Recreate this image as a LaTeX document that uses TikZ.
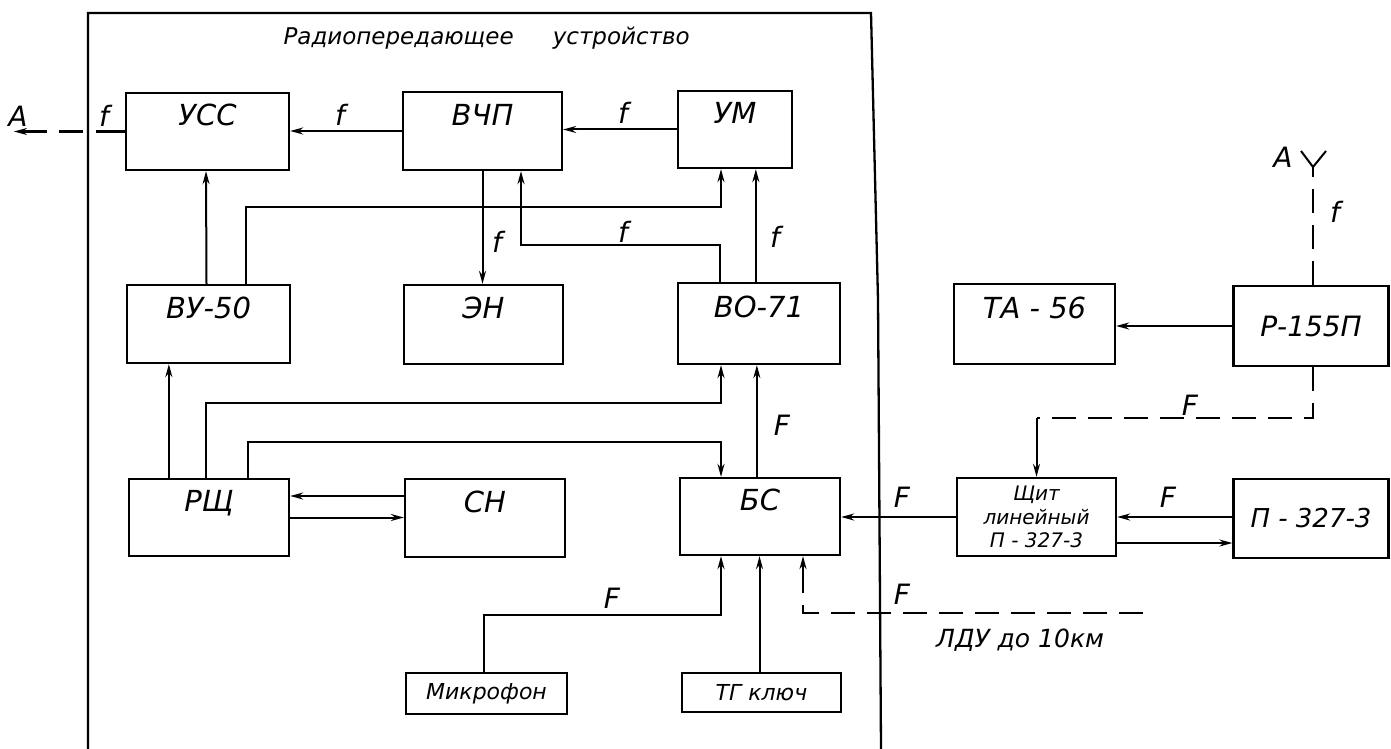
\documentclass[tikz,border=0pt]{standalone}
\usepackage{fontspec}
\setmainfont{DejaVu Sans}
\usetikzlibrary{arrows.meta,calc}
\tikzset{
  blk/.style={draw, line width=2.3pt, inner sep=0pt, align=center, font=\fontsize{29}{33}\selectfont\itshape},
  raised/.style={text height=20pt, text depth=32pt},
  small/.style={font=\fontsize{22}{26}\selectfont\itshape},
  ln/.style={line width=2pt},
  arr/.style={ln, -{Stealth[length=13pt,width=7pt]}},
  dsh/.style={ln, dash pattern=on 24pt off 12pt},
  lbl/.style={font=\fontsize{28}{32}\selectfont\itshape, inner sep=1pt},
}
\begin{document}
\begin{tikzpicture}[x=1pt, y=-1pt]
\fill[white] (0,0) rectangle (1391,749);
\useasboundingbox (0,0) rectangle (1391,749);
% frame
\draw[line width=2.3pt] (88,749) -- (88,13) -- (871,13) -- (878,300) -- (881,749);
\node[anchor=west, font=\fontsize{23}{27}\selectfont\itshape] (title) at (280,38) {Радиопередающее\hspace{1.7em}устройство};
% blocks
\node[blk, raised, minimum width=163pt, minimum height=77pt] (usc) at (207.5,131.5) {УСС};
\node[blk, raised, minimum width=159pt, minimum height=78pt] (vchp) at (482.5,131) {ВЧП};
\node[blk, raised, minimum width=114pt, minimum height=77pt] (um) at (735,129.5) {УМ};
\node[blk, raised, minimum width=163pt, minimum height=78pt] (vu) at (208.5,324) {ВУ-50};
\node[blk, raised, minimum width=159pt, minimum height=79pt] (en) at (483.5,324.5) {ЭН};
\node[blk, raised, minimum width=162pt, minimum height=81pt] (vo) at (759,323.5) {ВО-71};
\node[blk, raised, minimum width=160pt, minimum height=77pt] (rsch) at (209,517.5) {РЩ};
\node[blk, raised, minimum width=160pt, minimum height=78pt] (sn) at (485,518) {СН};
\node[blk, raised, minimum width=160pt, minimum height=77pt] (bs) at (760,516.5) {БС};
\node[blk, small, minimum width=161pt, minimum height=41pt] (mic) at (486.5,693.5) {Микрофон};
\node[blk, small, minimum width=159pt, minimum height=39pt] (tg) at (761.5,692.5) {ТГ ключ};
\node[blk, raised, minimum width=161pt, minimum height=80pt] (ta) at (1034.5,324) {ТА - 56};
\node[blk, minimum width=155pt, minimum height=80pt, font=\fontsize{28}{32}\selectfont\itshape] (r155) at (1311,326) {Р-155П};
\node[blk, minimum width=159pt, minimum height=78pt, font=\fontsize{20}{23.5}\selectfont\itshape] (shchit) at (1036.5,517) {Щит\\линейный\\П - 327-3};
\node[blk, minimum width=155pt, minimum height=79pt, font=\fontsize{26}{30}\selectfont\itshape] (p327) at (1311,518.5) {П - 327-3};
% coordinates
\coordinate (aout) at (14,131.5);
\coordinate (fo1) at (96,131.5);
\coordinate (fo2) at (83,131.5);
\coordinate (b1) at (521,245);
\coordinate (b2) at (721,207);
\coordinate (b3) at (721,403);
\coordinate (b4) at (721,442);
\coordinate (b5) at (721,615);
\coordinate (ldu) at (1143,613);
\coordinate (b6) at (803,613);
\coordinate (b7) at (803,590);
\coordinate (b8) at (1036.5,418);
\coordinate (ant) at (1313,167);
\coordinate (antl) at (1301,151);
\coordinate (antr) at (1326,151);
% connectors
\draw[arr] (vchp.west) -- (vchp.west -| usc.east);
\draw[arr] (um.west) -- (um.west -| vchp.east);
\draw[ln] (usc.west) -- (fo1);
\draw[dsh, -{Stealth[length=13pt,width=7pt]}] (fo2) -- (aout);
\draw[arr] ([xshift=-2pt]vu.north) -- ([xshift=-1.5pt]usc.south);
\draw[arr] (vchp.south) -- (vchp.south |- en.north);
\draw[arr] ([xshift=43pt]vo.north west) |- (b1) -- (b1 |- vchp.south);
\draw[arr] ([xshift=120pt]vu.north west) |- (b2) -- (b2 |- um.south);
\draw[arr] ([xshift=79pt]vo.north west) coordinate (p8) -- (p8 |- um.south);
\draw[arr] ([xshift=41pt]rsch.north west) coordinate (p9) -- (p9 |- vu.south);
\draw[arr] ([xshift=78pt]rsch.north west) |- (b3) -- (b3 |- vo.south);
\draw[arr] ([xshift=120pt]rsch.north west) |- (b4) -- (b4 |- bs.north);
\draw[arr] ([xshift=78pt]bs.north west) coordinate (p12) -- (p12 |- vo.south);
\draw[arr] ([yshift=22pt]sn.west) coordinate (p13) -- (p13 -| rsch.east);
\draw[arr] (rsch.east) -- (rsch.east -| sn.west);
\draw[arr] ([xshift=-2.5pt]mic.north) |- (b5) -- (b5 |- bs.south);
\draw[arr] ([xshift=-2pt]tg.north) coordinate (p16) -- (p16 |- bs.south);
\draw[dsh] (ldu) -- (b6) -- (b7);
\draw[arr] (b7) -- (b7 |- bs.south);
\draw[arr] (shchit.west) -- (shchit.west -| bs.east);
\draw[arr] ([yshift=1.5pt]p327.west) coordinate (p19) -- (p19 -| shchit.east);
\draw[arr] ([yshift=-26pt]shchit.east) coordinate (p20) -- (p20 -| p327.west);
\draw[arr] (r155.west) -- (r155.west -| ta.east);
\draw[dsh] ([xshift=2pt]r155.south) |- (b8);
\draw[arr] (b8) -- (shchit.north);
\draw[dsh] ([xshift=2pt]r155.north) -- (ant);
\draw[ln] (antl) -- (ant) -- (antr);
% labels
\node[lbl] (lA1) at (18,116) {A};
\node[lbl] (lf1) at (104,116) {f};
\node[lbl] (lf2) at (340,115) {f};
\node[lbl] (lf3) at (623,113) {f};
\node[lbl] (lf4) at (497,242) {f};
\node[lbl] (lf5) at (623,232) {f};
\node[lbl] (lf6) at (775,237) {f};
\node[lbl] (lF1) at (782,425) {F};
\node[lbl] (lF2) at (612,598) {F};
\node[lbl] (lF3) at (902,497) {F};
\node[lbl] (lF4) at (1168,497) {F};
\node[lbl] (lF5) at (1190,405) {F};
\node[lbl] (lF6) at (902,594) {F};
\node[lbl] (lA2) at (1283,157) {A};
\node[lbl] (lf7) at (1335,212) {f};
\node[lbl, anchor=west, font=\fontsize{25}{29}\selectfont\itshape] (ldut) at (935,640) {ЛДУ до 10км};
\end{tikzpicture}
\end{document}
